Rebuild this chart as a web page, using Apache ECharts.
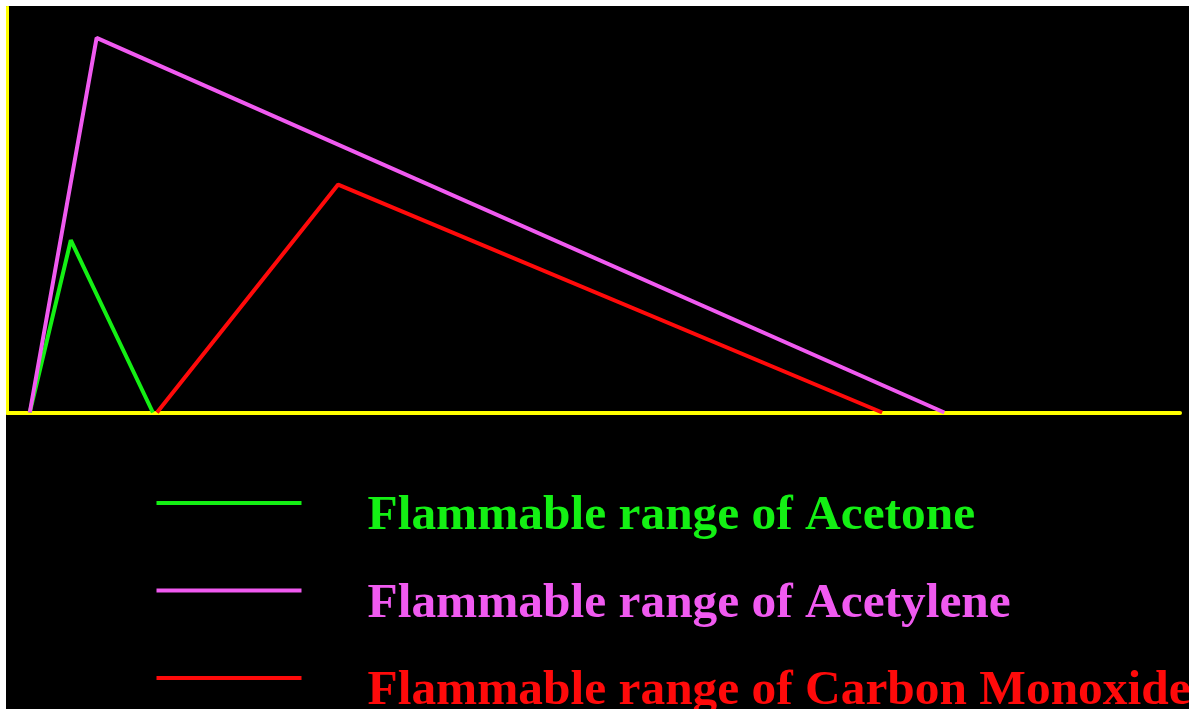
<!DOCTYPE html>
<html>
<head>
<meta charset="utf-8">
<script src="https://cdn.jsdelivr.net/npm/echarts@6/dist/echarts.min.js"></script>
<style>
  html, body { margin: 0; padding: 0; background: #ffffff; width: 1189px; height: 709px; overflow: hidden; }
  #chart { position: absolute; left: 6px; top: 6px; width: 1183px; height: 703px; background: #000000; }
</style>
</head>
<body>
<div id="chart"></div>
<script>
// Concentration (x, % of axis span) and relative height (y) for each flammable range triangle
const seriesNames = ['Flammable range of Acetone', 'Flammable range of Acetylene', 'Flammable range of Carbon Monoxide'];
const acetoneX = [1.9, 5.4, 12.4];
const acetoneY = [0, 42.5, 0];
const acetyleneX = [1.9, 7.6, 79.9];
const acetyleneY = [0, 92.4, 0];
const carbonMonoxideX = [12.75, 28.2, 74.6];
const carbonMonoxideY = [0, 56.2, 0];
const colors = ['#14f014', '#f05af0', '#ff0a0a'];

function pairs(xs, ys) { return xs.map((x, i) => [x, ys[i]]); }

const chart = echarts.init(document.getElementById('chart'), null, { renderer: 'canvas' });
const lineSeries = [
  pairs(acetoneX, acetoneY),
  pairs(acetyleneX, acetyleneY),
  pairs(carbonMonoxideX, carbonMonoxideY)
].map((data, i) => ({
  name: seriesNames[i],
  type: 'line',
  data: data,
  symbol: 'none',
  color: colors[i],
  lineStyle: { width: 4, color: colors[i] },
  z: 3
}));

chart.setOption({
  backgroundColor: '#000000',
  animation: false,
  grid: { left: 1.5, top: 1, right: 9, bottom: 296.5, containLabel: false },
  xAxis: {
    type: 'value', min: 0, max: 100,
    axisLine: { show: true, lineStyle: { color: '#ffff00', width: 4 } },
    axisTick: { show: false }, axisLabel: { show: false }, splitLine: { show: false }
  },
  yAxis: {
    type: 'value', min: 0, max: 100,
    axisLine: { show: true, lineStyle: { color: '#ffff00', width: 3 } },
    axisTick: { show: false }, axisLabel: { show: false }, splitLine: { show: false }
  },
  legend: {
    orient: 'vertical',
    left: 150.5,
    top: 459,
    height: 400,
    padding: 0,
    itemWidth: 145,
    itemHeight: 4,
    itemGap: 11.5,
    icon: 'rect',
    selectedMode: false,
    formatter: function (name) { return '{t|' + name + '}'; },
    textStyle: {
      fontFamily: '"Liberation Serif", "Times New Roman", serif',
      fontWeight: 'bold',
      fontSize: 49.4,
      rich: {
        t: {
          fontFamily: '"Liberation Serif", "Times New Roman", serif',
          fontWeight: 'bold',
          fontSize: 49.4,
          lineHeight: 56,
          padding: [27, 0, 0, 61]
        }
      }
    },
    data: seriesNames.map((n, i) => ({ name: n, itemStyle: { color: colors[i] }, textStyle: { color: colors[i] } }))
  },
  series: lineSeries
});
</script>
</body>
</html>
